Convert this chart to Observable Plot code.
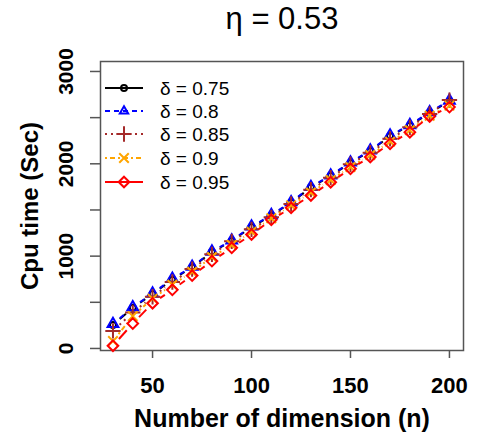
<!DOCTYPE html>
<html>
<head>
<meta charset="utf-8">
<script src="https://cdn.jsdelivr.net/npm/d3@7"></script>
<script src="https://cdn.jsdelivr.net/npm/@observablehq/plot@0.6"></script>
<style>
  html, body { margin: 0; padding: 0; background: #fff; }
  #chart svg { display: block; }
</style>
</head>
<body>
<div id="chart"></div>
<script>
const titleText = "η = 0.53";
const xLabel = "Number of dimension (n)";
const yLabel = "Cpu time (Sec)";
const dims = [30, 40, 50, 60, 70, 80, 90, 100, 110, 120, 130, 140, 150, 160, 170, 180, 190, 200];
const deltaNames = ["δ = 0.75", "δ = 0.8", "δ = 0.85", "δ = 0.9", "δ = 0.95"];
const d075 = [255, 440, 590, 745, 880, 1045, 1165, 1315, 1440, 1580, 1745, 1870, 2010, 2140, 2300, 2415, 2550, 2680];
const d080 = [265, 447, 595, 755, 885, 1050, 1170, 1321, 1445, 1585, 1750, 1875, 2015, 2145, 2307, 2420, 2560, 2685];
const d085 = [190, 390, 560, 720, 860, 1020, 1160, 1290, 1420, 1565, 1720, 1850, 1995, 2120, 2270, 2395, 2540, 2690];
const d090 = [80, 350, 540, 690, 830, 990, 1120, 1265, 1410, 1550, 1690, 1825, 1965, 2095, 2240, 2365, 2520, 2630];
const d095 = [30, 270, 490, 635, 790, 946, 1090, 1235, 1393, 1523, 1657, 1801, 1946, 2073, 2217, 2343, 2513, 2614];
const xTicks = [50, 100, 150, 200];
const yTicks = [0, 500, 1000, 1500, 2000, 2500, 3000];
const yTickLabels = [0, 1000, 2000, 3000];

const seriesValues = [d075, d080, d085, d090, d095];
const styles = [
  {color: "#000000", dash: null, symbol: "circle", r: 3.0},
  {color: "#0000FF", dash: "5,4", symbol: "triangle", r: 4.0},
  {color: "#A52A2A", dash: "2,4", symbol: "plus", r: 5.0},
  {color: "#FFA500", dash: "2,3,5,3", symbol: "times", r: 4.4},
  {color: "#FF0000", dash: null, symbol: "diamond2", r: 4.8}
];

const font = "'Liberation Sans', Arial, Helvetica, sans-serif";
const gap = 9; // pixel gap around each point (R type = "b")

const baseOptions = {
  width: 477,
  height: 436,
  marginLeft: 100,
  marginRight: 14,
  marginTop: 61,
  marginBottom: 86,
  x: {domain: [23.7, 207.1]},
  y: {domain: [-22, 3108]},
  style: {fontFamily: font, background: "#fff", overflow: "visible"}
};

// First pass: obtain the scales so line segments can be shortened in pixel space
const probe = Plot.plot({...baseOptions, marks: [Plot.frame()]});
const sx = probe.scale("x");
const sy = probe.scale("y");

const marks = [];
marks.push(Plot.frame({stroke: "#555", strokeWidth: 1.5}));
marks.push(Plot.axisX({ticks: xTicks, tickSize: 8, tickFormat: () => "", stroke: "#555", strokeWidth: 1.5}));
marks.push(Plot.axisY({ticks: yTicks, tickSize: 10, tickFormat: () => "", stroke: "#555", strokeWidth: 1.5}));
marks.push(Plot.text(xTicks, {x: d => d, text: d => String(d), frameAnchor: "bottom", dy: 35, fontSize: 22, fontWeight: "bold", fill: "#000", lineAnchor: "middle"}));
marks.push(Plot.text(yTickLabels, {y: d => d, text: d => String(d), frameAnchor: "left", dx: -34, rotate: -90, fontSize: 21, fontWeight: "bold", fill: "#000", lineAnchor: "middle", textAnchor: "middle"}));
marks.push(Plot.text([xLabel], {frameAnchor: "bottom", dy: 68, fontSize: 25, fontWeight: "bold", fill: "#000", lineAnchor: "middle"}));
marks.push(Plot.text([yLabel], {frameAnchor: "left", dx: -70, rotate: -90, fontSize: 24, fontWeight: "bold", fill: "#000", lineAnchor: "middle", textAnchor: "middle"}));
marks.push(Plot.text([titleText], {frameAnchor: "top", dy: -42, fontSize: 31, fill: "#000", lineAnchor: "middle"}));

seriesValues.forEach((vals, i) => {
  const st = styles[i];
  const pts = dims.map((n, j) => ({n, v: vals[j]}));
  const segs = [];
  for (let j = 1; j < pts.length; j++) {
    const a = pts[j - 1], b = pts[j];
    const ax = sx.apply(a.n), ay = sy.apply(a.v), bx = sx.apply(b.n), by = sy.apply(b.v);
    const len = Math.hypot(bx - ax, by - ay);
    if (len <= 2 * gap) continue;
    const ux = (bx - ax) / len, uy = (by - ay) / len;
    segs.push({
      x1: sx.invert(ax + ux * gap), y1: sy.invert(ay + uy * gap),
      x2: sx.invert(bx - ux * gap), y2: sy.invert(by - uy * gap)
    });
  }
  marks.push(Plot.link(segs, {x1: "x1", y1: "y1", x2: "x2", y2: "y2", stroke: st.color, strokeWidth: 2, strokeDasharray: st.dash || undefined}));
  marks.push(Plot.dot(pts, {x: "n", y: "v", symbol: st.symbol, r: st.r, stroke: st.color, strokeWidth: 2, fill: "none"}));
});

const chart = Plot.plot({...baseOptions, marks});
document.getElementById("chart").appendChild(chart);

// Legend (top-left inside the panel)
const svg = d3.select(chart.tagName.toLowerCase() === "svg" ? chart : chart.querySelector("svg"));
const lg = svg.append("g").attr("font-family", font).attr("text-anchor", "start");
const rowY = [88, 111, 134, 158, 182];
const symMap = {circle: d3.symbolCircle, triangle: d3.symbolTriangle2, plus: d3.symbolPlus, times: d3.symbolTimes, diamond2: d3.symbolDiamond2};
deltaNames.forEach((name, i) => {
  const st = styles[i];
  const y = rowY[i];
  const line = lg.append("line").attr("x1", 105).attr("x2", 143).attr("y1", y).attr("y2", y)
    .attr("stroke", st.color).attr("stroke-width", 2);
  if (st.dash) line.attr("stroke-dasharray", st.dash);
  lg.append("path").attr("d", d3.symbol(symMap[st.symbol], Math.PI * st.r * st.r)())
    .attr("transform", `translate(124,${y})`)
    .attr("fill", "none").attr("stroke", st.color).attr("stroke-width", 2);
  lg.append("text").attr("x", 160).attr("y", y).attr("dy", "0.35em")
    .attr("text-anchor", "start")
    .attr("font-size", 19).attr("fill", "#000").text(name);
});
</script>
</body>
</html>
